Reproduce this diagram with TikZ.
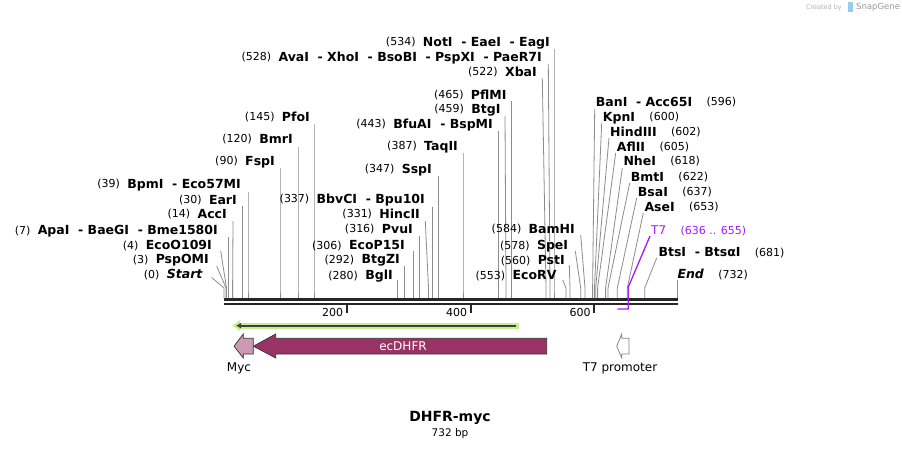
\documentclass[tikz,border=0pt]{standalone}
\usepackage{fontspec}
\setmainfont{DejaVu Sans}
\usetikzlibrary{arrows.meta,positioning}
\definecolor{dhfrcol}{RGB}{153,51,102}
\definecolor{myccol}{RGB}{204,153,180}
\definecolor{primercol}{RGB}{198,239,140}
\definecolor{tsevcol}{RGB}{160,32,240}
\definecolor{sitecol}{RGB}{140,140,140}
\definecolor{sgblue}{RGB}{150,205,235}
\begin{document}
\begin{tikzpicture}[x=1pt,y=-1pt,
    nm/.style={font=\fontsize{12.5}{14}\selectfont\bfseries, inner sep=0pt, text height=9.1pt, text depth=0pt},
    num/.style={font=\fontsize{11}{13}\selectfont, inner sep=0pt, text height=8pt, text depth=0pt},
    site/.style={draw=sitecol, line width=0.8pt},
    feat/.style={font=\fontsize{12}{14}\selectfont, inner sep=0pt}]
    \useasboundingbox[fill=white] (0,0) rectangle (902,449);
    % backbone and ticks
    \draw[line width=2.6pt, black!85] (224,299.3) -- (677.7,299.3);
    \draw[line width=2.4pt, black!85] (224,304) -- (677.7,304);
    \foreach \t/\tx in {200/346.7, 400/470.7, 600/594.3} {
        \draw[line width=1.8pt, black!85] (\tx,305) -- (\tx,313);
        \node[num, anchor=east] (tick\t) at (\tx-3.5,312) {\t};
    }
    % sites, labels on the left
    \node[nm, anchor=east] (sStart) at (203,274) {\textit{Start}};
    \node[num, left=7pt of sStart] (nStart) {(0)};
    \coordinate (tStart) at (211.7,277.5);
    \coordinate (bStart) at (224,298);
    \draw[site] (tStart) -- (224,288) -- (bStart);
    \foreach \i/\num/\name/\ex/\ly/\tx/\ty/\bx in {
        a/3/PspOMI/209/259/216.7/266/226,
        b/4/EcoO109I/212/245/220.7/251/226.5,
        c/7/ApaI\ \ - BaeGI\ \ - Bme1580I/218/230/228.3/237/228.3,
        d/14/AccI/227/214/233/221/232.6,
        e/30/EarI/237/200/242.5/206/242.5,
        f/39/BpmI\ \ - Eco57MI/241/184/248/192/248,
        g/90/FspI/275/161/280/168/280,
        h/120/BmrI/293/139/298/147/298,
        i/145/PfoI/310/117/314/124/314,
        j/280/BglI/393/275/397.3/280/397.3,
        k/292/BtgZI/400/259/404.3/266/404.3,
        l/306/EcoP15I/405/245/413.3/251/413.3,
        m/316/PvuI/413/229/419.3/236/419.3,
        n/331/HincII/420/214/425.3/221/428.5,
        o/337/BbvCI\ \ - Bpu10I/425/199/432.3/207/432.3,
        p/347/SspI/432/169/438.3/176/438.3,
        q/387/TaqII/458/146/463/153/463,
        r/443/BfuAI\ \ - BspMI/493/124/498.3/131/498.3,
        s/459/BtgI/500.7/109/505/116/506,
        t/465/PflMI/506.7/95/511.7/101/511.7,
        u/522/XbaI/537/72/542.3/78/546,
        v/528/AvaI\ \ - XhoI\ \ - BsoBI\ \ - PspXI\ \ - PaeR7I/542/57/548.3/64/550,
        w/534/NotI\ \ - EaeI\ \ - EagI/550/42/554/49/554,
        x/553/EcoRV/556.7/275/562.7/280/566,
        y/560/PstI/565/260/569.3/265/570,
        z/578/SpeI/568.3/245/575.3/251/580.7,
        A/584/BamHI/575/229/580.7/235/585} {
        \node[nm, anchor=east] (s\i) at (\ex,\ly) {\name};
        \node[num, left=7pt of s\i] (n\i) {(\num)};
        \coordinate (t\i) at (\tx,\ty);
        \coordinate (b\i) at (\bx,298);
        \draw[site] (t\i) -- (\bx,288) -- (b\i);
    }
    % sites, labels on the right
    \foreach \i/\num/\name/\sx/\ly/\tx/\ty/\bx in {
        B/596/BanI\ \ - Acc65I/595.7/102/594.7/109/592.6,
        C/600/KpnI/602.7/117/601.7/123/594.5,
        D/602/HindIII/610/132/609/138/595.7,
        E/605/AflII/616.7/147/615.7/153/597.6,
        F/618/NheI/623.3/161/622.3/168/605.6,
        G/622/BmtI/630.7/177/629.7/183/608,
        H/637/BsaI/637.7/192/636.7/198/617.3,
        I/653/AseI/644.3/207/643.3/213/627.3,
        J/681/BtsI\ \ - BtsαI/658.3/252/656.7/258/644.7} {
        \node[nm, anchor=west] (s\i) at (\sx,\ly) {\name};
        \node[num, right=14pt of s\i] (n\i) {(\num)};
        \coordinate (t\i) at (\tx,\ty);
        \coordinate (b\i) at (\bx,298);
        \draw[site] (t\i) -- (\bx,288) -- (b\i);
    }
    \node[nm, anchor=west] (sEnd) at (677.3,274) {\textit{End}};
    \node[num, right=14pt of sEnd] (nEnd) {(732)};
    \coordinate (tEnd) at (677.7,280);
    \coordinate (bEnd) at (677.7,298);
    \draw[site] (tEnd) -- (bEnd);
    % T7 feature mark
    \node[num, anchor=west, text=tsevcol, font=\fontsize{12}{14}\selectfont] (sT7) at (651,230) {T7};
    \node[num, right=14pt of sT7, text=tsevcol] (nT7) {(636 .. 655)};
    \coordinate (tT7) at (650,236);
    \coordinate (eT7) at (617.3,309);
    \draw[tsevcol, line width=1.3pt] (tT7) -- (628.3,287) -- (628.3,309) -- (eT7);
    % primer
    \draw[primercol, line width=6pt, -{Latex[length=8pt,width=12pt]}] (519,325.7) -- (232,325.7);
    \draw[black!75, line width=1.6pt, -{Latex[length=5pt,width=6pt]}] (516,325.7) -- (236,325.7);
    % features
    \draw[fill=dhfrcol, draw=black!80, line width=0.7pt] (546.7,338.3) -- (275.7,338.3) -- (275.7,334)
        -- (253.3,346.2) -- (275.7,358) -- (275.7,354) -- (546.7,354) -- cycle;
    \node[feat, text=white] (dhfr) at (403,346.5) {ecDHFR};
    \draw[fill=myccol, draw=black!80, line width=0.7pt] (253.3,338.3) -- (243.3,338.3) -- (243.3,334)
        -- (234,346.2) -- (243.3,358) -- (243.3,354) -- (253.3,354) -- cycle;
    \node[feat] (myc) at (239,368) {Myc};
    \draw[fill=white, draw=black!50, line width=0.7pt] (629,338.3) -- (621.7,338.3) -- (621.7,334)
        -- (616.7,346.2) -- (621.7,358) -- (621.7,354) -- (629,354) -- cycle;
    \node[feat] (tpro) at (620,368) {T7 promoter};
    % title
    \node[font=\fontsize{14}{16}\selectfont\bfseries, inner sep=0pt] (title) at (450,418) {DHFR-myc};
    \node[font=\fontsize{10.5}{12}\selectfont, inner sep=0pt, below=4pt of title] (size) {732 bp};
    % credit
    \node[font=\fontsize{6.5}{8}\selectfont, text=black!30, inner sep=0pt, anchor=east] (cred) at (842,7.5) {Created by};
    \fill[sgblue] (848,2.5) rectangle (853,12.5);
    \node[font=\fontsize{8.5}{10}\selectfont, text=black!40, inner sep=0pt, anchor=west] (sg) at (856,7.5) {SnapGene};
\end{tikzpicture}
\end{document}
